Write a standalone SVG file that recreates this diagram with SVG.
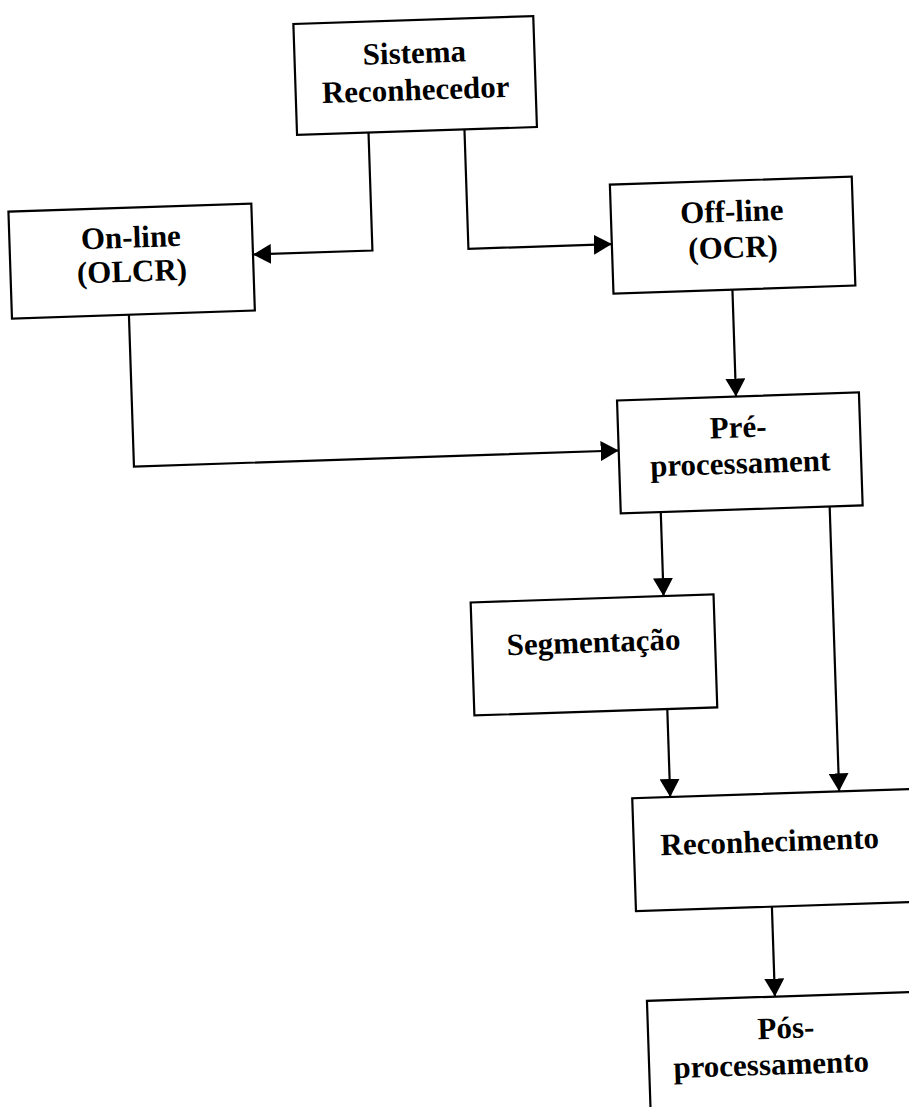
<svg xmlns="http://www.w3.org/2000/svg" width="909" height="1107" viewBox="0 0 909 1107">
<style>
.box{fill:#fff;stroke:#000;stroke-width:2.2}
.lbl{font-family:"Liberation Serif","Times New Roman",serif;font-weight:bold;font-size:31px;fill:#000;text-anchor:middle}
.conn{fill:none;stroke:#000;stroke-width:2.2}
</style>
<defs>
<marker id="ah" viewBox="0 0 18 20" refX="18" refY="10" markerWidth="18" markerHeight="20" markerUnits="userSpaceOnUse" orient="auto">
<path d="M0,0 L18,10 L0,20 z" fill="#000"/>
</marker>
</defs>
<rect width="909" height="1107" fill="#fff"/>
<g transform="rotate(-1.9 454 553)">
<g id="connectors">
<path class="conn" d="M382.5,130 V248 H263" marker-end="url(#ah)"/>
<path class="conn" d="M478.5,130 V249.5 H622" marker-end="url(#ah)"/>
<path class="conn" d="M741,299 V406" marker-end="url(#ah)"/>
<path class="conn" d="M137,304 V456 H622" marker-end="url(#ah)"/>
<path class="conn" d="M662,519 V603" marker-end="url(#ah)"/>
<path class="conn" d="M831,519 V804" marker-end="url(#ah)"/>
<path class="conn" d="M662,716 V804" marker-end="url(#ah)"/>
<path class="conn" d="M760,917 V1007" marker-end="url(#ah)"/>
</g>
<g id="sistema">
<rect class="box" x="311" y="19" width="240" height="111"/>
<text class="lbl" x="431" y="62">Sistema</text>
<text class="lbl" x="431" y="99">Reconhecedor</text>
</g>
<g id="online">
<rect class="box" x="20" y="197" width="243" height="107"/>
<text class="lbl" x="141.5" y="237">On-line</text>
<text class="lbl" x="141.5" y="271">(OLCR)</text>
</g>
<g id="offline">
<rect class="box" x="622" y="190" width="242" height="109"/>
<text class="lbl" x="743" y="231">Off-line</text>
<text class="lbl" x="743" y="267">(OCR)</text>
</g>
<g id="preprocessamento">
<rect class="box" x="622" y="406" width="242" height="113"/>
<text class="lbl" x="742" y="447">Pré-</text>
<text class="lbl" x="743" y="483">processament</text>
</g>
<g id="segmentacao">
<rect class="box" x="469" y="603" width="243" height="113"/>
<text class="lbl" x="590.5" y="657">Segmentação</text>
</g>
<g id="reconhecimento">
<rect class="box" x="624" y="804" width="300" height="113"/>
<text class="lbl" x="760" y="862">Reconhecimento</text>
</g>
<g id="posprocessamento">
<rect class="box" x="632" y="1007" width="300" height="150"/>
<text class="lbl" x="770" y="1049">Pós-</text>
<text class="lbl" x="754" y="1085">processamento</text>
</g>
</g>
</svg>
